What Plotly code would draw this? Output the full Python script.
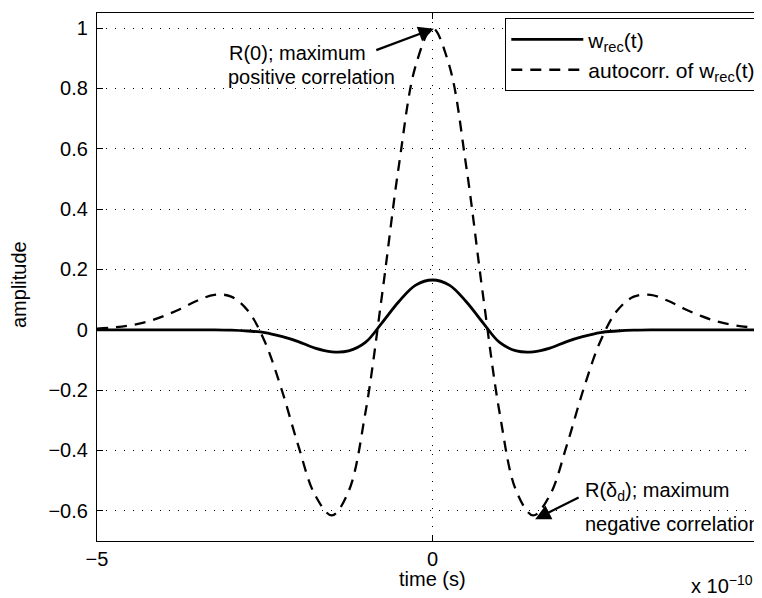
import plotly.graph_objects as go

# time axis in units of 1e-10 s
time_e10 = [-5.0, -4.75, -4.5, -4.25, -4.0, -3.75, -3.5, -3.25, -3.0, -2.75, -2.5, -2.25,
            -2.0, -1.75, -1.5, -1.25, -1.0, -0.75, -0.5, -0.25, 0.0,
            0.25, 0.5, 0.75, 1.0, 1.25, 1.5, 1.75, 2.0, 2.25, 2.5, 2.75,
            3.0, 3.25, 3.5, 3.75, 4.0, 4.25, 4.5, 4.75, 5.0]

w_rec = [0.0, 0.0, 0.0, 0.0, 0.0, 0.0, 0.0, 0.0, -0.001, -0.004, -0.009, -0.022,
         -0.039, -0.061, -0.073, -0.070, -0.042, 0.024, 0.094, 0.148, 0.165,
         0.148, 0.094, 0.024, -0.042, -0.070, -0.073, -0.061, -0.039, -0.022, -0.009, -0.004,
         -0.001, 0.0, 0.0, 0.0, 0.0, 0.0, 0.0, 0.0, 0.0]

autocorr = [0.004, 0.008, 0.015, 0.027, 0.046, 0.070, 0.097, 0.116, 0.110, 0.063, -0.039, -0.197,
            -0.384, -0.548, -0.615, -0.535, -0.275, 0.119, 0.546, 0.876, 1.0,
            0.876, 0.546, 0.119, -0.275, -0.535, -0.615, -0.548, -0.384, -0.197, -0.039, 0.063,
            0.110, 0.116, 0.097, 0.070, 0.046, 0.027, 0.015, 0.008, 0.004]

x_ticks = [-5, 0, 5]
x_tick_text = ["\u22125", "0", "5"]
y_ticks = [-0.6, -0.4, -0.2, 0.0, 0.2, 0.4, 0.6, 0.8, 1.0]
y_tick_text = ["\u22120.6", "\u22120.4", "\u22120.2", "0", "0.2", "0.4", "0.6", "0.8", "1"]

FONT = "Liberation Sans, Arial, Helvetica, sans-serif"

fig = go.Figure()
fig.add_trace(go.Scatter(
    x=time_e10, y=w_rec, mode="lines", name="w<sub>rec</sub>(t)",
    line=dict(color="black", width=2.8, shape="spline", smoothing=1.0)))
fig.add_trace(go.Scatter(
    x=time_e10, y=autocorr, mode="lines", name="autocorr. of w<sub>rec</sub>(t)",
    line=dict(color="black", width=2.3, dash="11px,8px", shape="spline", smoothing=1.0)))

axis_common = dict(
    showline=True, linecolor="black", linewidth=1.2, mirror="ticks",
    ticks="inside", ticklen=6, tickcolor="black", tickwidth=1.2,
    showgrid=True, gridcolor="black", gridwidth=1, griddash="1px,8px",
    zeroline=False, tickfont=dict(size=20, color="black", family=FONT),
)

fig.update_xaxes(range=[-5, 5], tickvals=x_ticks, ticktext=x_tick_text,
                 ticklabelstandoff=0, **axis_common)
fig.update_yaxes(range=[-0.7, 1.05], tickvals=y_ticks, ticktext=y_tick_text,
                 ticklabelstandoff=4, **axis_common)

annotations = [
    # axis titles
    dict(text="time (s)", xref="paper", yref="paper", x=0.5, y=0, xanchor="center",
         yanchor="middle", yshift=-38, showarrow=False, font=dict(size=20)),
    dict(text="x 10<sup>\u221210</sup>", xref="paper", yref="paper", x=1.0, y=0,
         xanchor="right", yanchor="middle", yshift=-43, xshift=-13, showarrow=False,
         font=dict(size=20)),
    dict(text="amplitude", xref="paper", yref="paper", x=0, y=0.5, xanchor="center",
         yanchor="middle", xshift=-78, yshift=-8, textangle=-90, showarrow=False,
         font=dict(size=20)),
    # R(0) annotation
    dict(text="R(0); maximum", x=-3.06, y=0.917, xref="x", yref="y", xanchor="left",
         yanchor="middle", showarrow=False, font=dict(size=20)),
    dict(text="positive correlation", x=-3.08, y=0.838, xref="x", yref="y", xanchor="left",
         yanchor="middle", showarrow=False, font=dict(size=20)),
    dict(text="", x=0.02, y=0.998, xref="x", yref="y", ax=-0.86, ay=0.925,
         axref="x", ayref="y", showarrow=True, arrowhead=2, arrowsize=1.4,
         arrowwidth=2.2, arrowcolor="black", standoff=0, startstandoff=0),
    # R(delta_d) annotation
    dict(text="R(\u03b4<sub>d</sub>); maximum", x=2.24, y=-0.535, xref="x", yref="y",
         xanchor="left", yanchor="middle", showarrow=False, font=dict(size=20)),
    dict(text="negative correlation", x=2.24, y=-0.645, xref="x", yref="y",
         xanchor="left", yanchor="middle", showarrow=False, font=dict(size=20)),
    dict(text="", x=1.53, y=-0.628, xref="x", yref="y", ax=2.2, ay=-0.553,
         axref="x", ayref="y", showarrow=True, arrowhead=2, arrowsize=1.4,
         arrowwidth=2.2, arrowcolor="black", standoff=0, startstandoff=0),
]

fig.update_layout(
    width=762, height=598,
    margin=dict(l=89, r=2, t=5, b=65),
    paper_bgcolor="white", plot_bgcolor="white",
    font=dict(family=FONT, size=20, color="black"),
    showlegend=True,
    legend=dict(x=0.99, y=0.99, xanchor="right", yanchor="top",
                bgcolor="white", bordercolor="black", borderwidth=1,
                font=dict(size=21), itemwidth=72, tracegroupgap=0),
    annotations=annotations,
)

fig.write_html("out.html")
